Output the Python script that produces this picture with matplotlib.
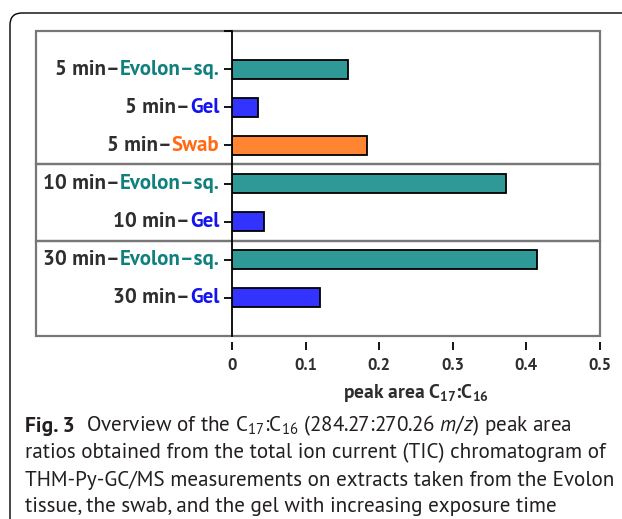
import numpy as np
import matplotlib
matplotlib.use("Agg")
import matplotlib.pyplot as plt
import matplotlib.transforms as mtransforms
from matplotlib.patches import Rectangle, FancyBboxPatch

# data
times = ["5 min", "5 min", "5 min", "10 min", "10 min", "30 min", "30 min"]
materials = ["Evolon–sq.", "Gel", "Swab", "Evolon–sq.", "Gel", "Evolon–sq.", "Gel"]
ratios = [0.157, 0.035, 0.183, 0.372, 0.043, 0.415, 0.120]
groups = [(-1, 2.5), (2.5, 4.5), (4.5, 7)]
x_ticks = [0, 0.1, 0.2, 0.3, 0.4, 0.5]
x_ticklabels = ["0", "0.1", "0.2", "0.3", "0.4", "0.5"]

bar_colors = {"Evolon–sq.": "#2e9996", "Gel": "#3333ff", "Swab": "#ff8533"}
text_colors = {"Evolon–sq.": "#0f807e", "Gel": "#1414f0", "Swab": "#ff6a13"}
dark = "#2e2e2e"

fonts = ["PT Sans", "Lato", "DejaVu Sans"]
plt.rcParams["font.family"] = fonts
plt.rcParams["mathtext.fontset"] = "custom"
plt.rcParams["mathtext.rm"] = "PT Sans"
plt.rcParams["mathtext.it"] = "PT Sans:italic"
plt.rcParams["mathtext.bf"] = "PT Sans:bold"

W, H = 622, 519
fig = plt.figure(figsize=(W / 100, H / 100), dpi=100)
ax = fig.add_axes([232 / W, 1 - 336 / H, (600 - 232) / W, (336 - 31) / H])

y = np.arange(len(ratios))
ax.barh(y, ratios, height=0.5, color=[bar_colors[m] for m in materials],
        edgecolor="black", linewidth=1.3, zorder=3)
ax.set_xlim(0, 0.5)
ax.set_ylim(7, -1)

for s in ["top", "right", "bottom"]:
    ax.spines[s].set_visible(False)
ax.spines["left"].set_linewidth(1.3)
ax.spines["left"].set_zorder(4)
ax.spines["bottom"].set_position(("outward", 4))

ax.set_xticks(x_ticks)
ax.set_xticklabels(x_ticklabels, fontweight="bold", fontsize=12, color=dark)
ax.tick_params(axis="x", length=6, width=1.3, pad=6)
ax.set_yticks(y)
ax.set_yticklabels([])
ax.set_yticks([-1], minor=True)
ax.tick_params(axis="y", which="both", length=6, width=1.3)

ax.set_xlabel(r"peak area C$_{\mathbf{17}}$:C$_{\mathbf{16}}$", fontweight="bold",
              fontsize=14, color=dark, labelpad=6)

# two-colour category labels
for i in y:
    t = ax.annotate(materials[i], xy=(0, i), xycoords=("axes fraction", "data"),
                    xytext=(-9, 0), textcoords="offset points", ha="right", va="center",
                    fontsize=15, fontweight="bold", color=text_colors[materials[i]])
    ax.annotate(times[i] + "–", xy=(0, 0.5), xycoords=t, ha="right", va="center",
                fontsize=15, fontweight="bold", color=dark)

# grey group boxes
trans = mtransforms.blended_transform_factory(ax.transAxes, ax.transData)
x0 = (36 - 232) / (600 - 232)
for a, b in groups:
    ax.add_patch(Rectangle((x0, a), 1 - x0, b - a, transform=trans,
                           fill=False, edgecolor="#777777", linewidth=1.6,
                           clip_on=False, zorder=1))

# outer rounded frame
frame = FancyBboxPatch((10, -60), 720, H - 13 + 60, boxstyle="round,pad=0,rounding_size=12",
                       transform=mtransforms.IdentityTransform(), fill=False,
                       edgecolor="black", linewidth=1)
fig.add_artist(frame)

# caption
cap = "#231f20"
t1 = fig.text(25 / W, 1 - 426 / H, "Fig. 3", fontsize=15.5, fontweight="bold",
              color=cap, va="center", ha="left")
ax.annotate(r"  Overview of the C$_{17}$:C$_{16}$ (284.27:270.26 $m/z$) peak area",
            xy=(1, 0.5), xycoords=t1, ha="left", va="center", fontsize=15.2, color=cap)
lines = ["ratios obtained from the total ion current (TIC) chromatogram of",
         "THM-Py-GC/MS measurements on extracts taken from the Evolon",
         "tissue, the swab, and the gel with increasing exposure time"]
for k, line in enumerate(lines):
    fig.text(25 / W, 1 - (453 + 27 * k) / H, line, fontsize=15.2, color=cap,
             va="center", ha="left")

fig.savefig("out.png", dpi=100)
